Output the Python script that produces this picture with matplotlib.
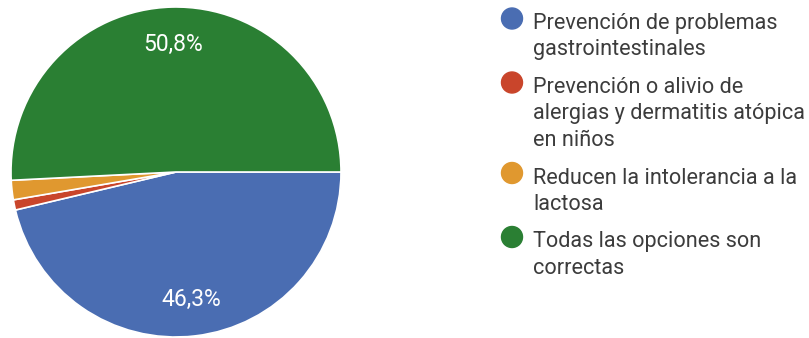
import numpy as np
import matplotlib.pyplot as plt
from matplotlib.patches import Circle

# Survey answers (Google Forms style pie)
labels = [
    "Prevención de problemas\ngastrointestinales",
    "Prevención o alivio de\nalergias y dermatitis atópica\nen niños",
    "Reducen la intolerancia a la\nlactosa",
    "Todas las opciones son\ncorrectas",
]
shares = [46.3, 1.0, 1.9, 50.8]
pct_labels = ["46,3%", "", "", "50,8%"]
colors = ["#4a6db2", "#c9452b", "#e0982f", "#2a7f33"]

plt.rcParams['font.family'] = ['Roboto', 'DejaVu Sans']

W, H = 809, 338
fig = plt.figure(figsize=(W / 100, H / 100), dpi=100)

# pie centred at (176, 172) px with radius 165 px
cx, cy, r = 176, 172, 165
ax = fig.add_axes([(cx - r) / W, (H - cy - r) / H, 2 * r / W, 2 * r / H])
wedges, _ = ax.pie(shares, colors=colors, startangle=0, counterclock=False,
                   wedgeprops=dict(edgecolor='white', linewidth=1.2))
ax.set_xlim(-1, 1)
ax.set_ylim(-1, 1)
ax.set_aspect('equal')

# percentage labels inside the two big slices
theta = 0.0
for share, txt in zip(shares, pct_labels):
    ang = theta - share / 100 * 360 / 2
    theta -= share / 100 * 360
    if txt:
        ax.text(0.775 * np.cos(np.radians(ang)), 0.775 * np.sin(np.radians(ang)), txt,
                ha='center', va='center', color='white', fontsize=16.5)

# legend on the right, drawn in pixel coordinates
lx = fig.add_axes([0, 0, 1, 1])
lx.set_xlim(0, W)
lx.set_ylim(H, 0)
lx.axis('off')
pitch = 26.5
gap = 37.5
y = 18.5
for lab, col in zip(labels, colors):
    lx.add_patch(Circle((512, y), 10.5, color=col))
    lines = lab.split('\n')
    for i, line in enumerate(lines):
        lx.text(533, y + 10.5 + i * pitch, line, ha='left', va='baseline',
                fontsize=15.6, color='#3c3c3c')
    y += (len(lines) - 1) * pitch + gap

fig.savefig('out.png', dpi=100)
